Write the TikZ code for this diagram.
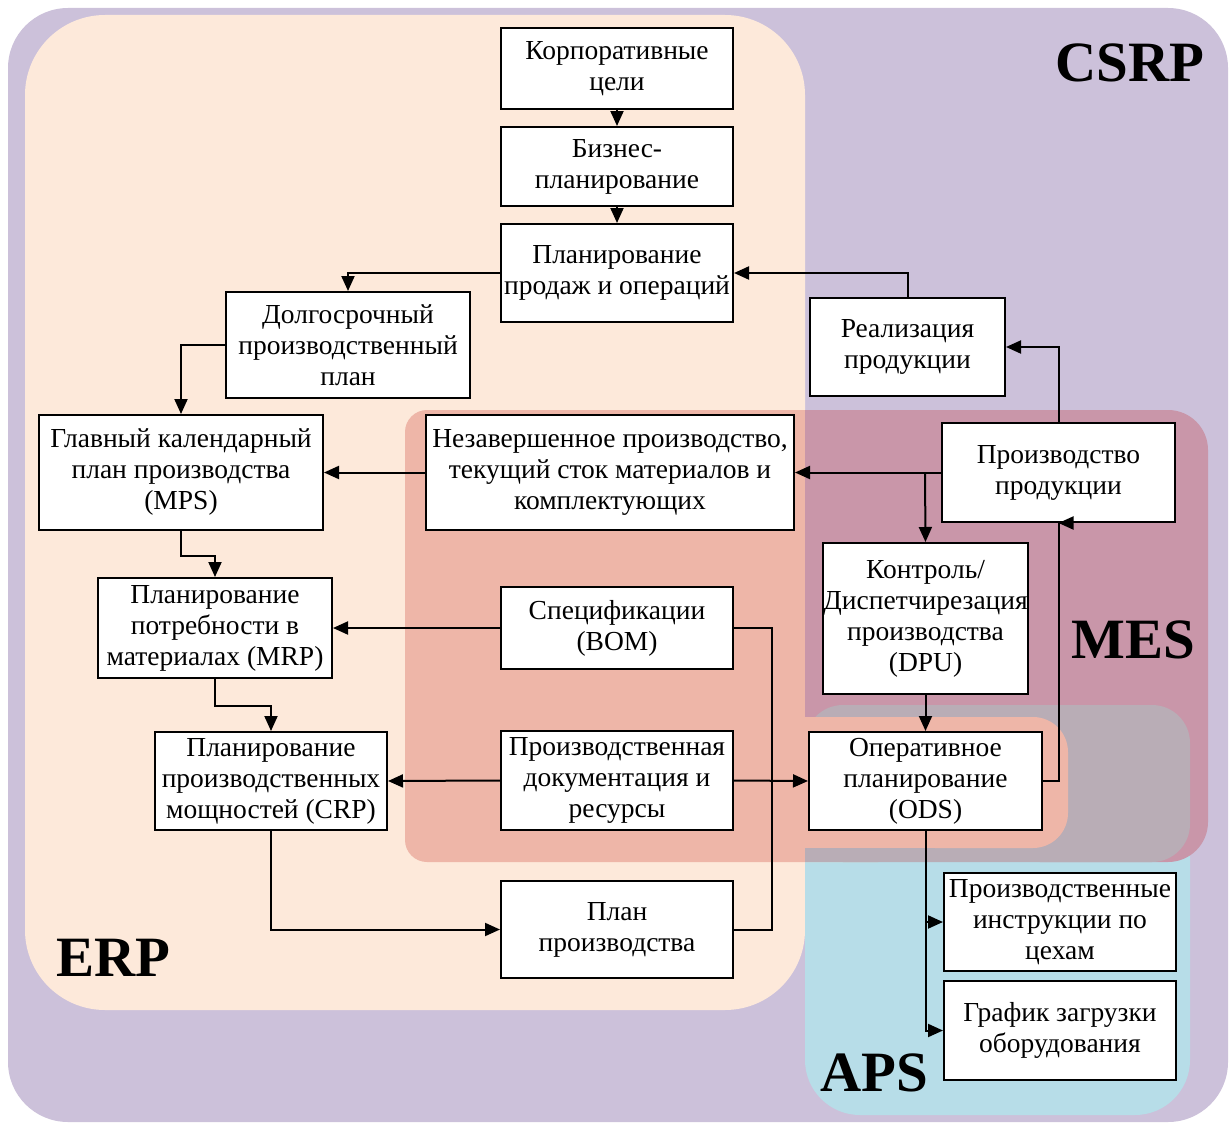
\documentclass[tikz,border=0pt]{standalone}
\usepackage{fontspec}
\setmainfont{Liberation Serif}
\newfontfamily\lserif{Liberation Serif}
\usetikzlibrary{arrows.meta}
\definecolor{csrp}{HTML}{CCC1DA}
\definecolor{erp}{HTML}{FDE9DA}
\definecolor{mesr}{HTML}{EEB6A8}
\definecolor{mesp}{HTML}{C996A9}
\definecolor{aps}{HTML}{B7DDE8}
\definecolor{apsmes}{HTML}{B9ADB6}
\tikzset{
  blk/.style={draw=black, line width=2pt, fill=white, align=center, inner sep=0pt,
    font=\lserif\fontsize{27.5}{31}\selectfont},
  con/.style={line width=2pt, draw=black},
  arr/.style={con, -{Triangle[length=15pt,width=13pt]}},
  big/.style={font=\lserif\fontsize{57}{60}\selectfont\bfseries, inner sep=0pt}
}
\newcommand\bx[6]{%
  \pgfmathsetmacro\bw{#4-#2}\pgfmathsetmacro\bh{#5-#3}%
  \pgfmathsetmacro\cx{(#2+#4)/2}\pgfmathsetmacro\cy{(#3+#5)/2}%
  \node[blk, minimum width=\bw pt, minimum height=\bh pt] (#1) at (\cx,\cy) {#6};}
\begin{document}
\begin{tikzpicture}[x=1pt,y=-1pt]
\useasboundingbox (0,0) rectangle (1232,1124);
% regions
\fill[csrp, rounded corners=60pt] (8,8) rectangle (1228,1122);
\fill[erp, rounded corners=80pt] (25,15) rectangle (805,1010);
\fill[aps, rounded corners=55pt] (805,705) rectangle (1190,1115);
\fill[mesr, rounded corners=22pt] (405,410) rectangle (900,862);
\fill[mesp] (805,410) rectangle (1100,862);
\fill[mesp, rounded corners=40pt] (1000,410) rectangle (1208,862);
\fill[apsmes, rounded corners=38pt] (805,705) rectangle (1190,862);
\fill[apsmes] (805,780) rectangle (900,862);
\fill[mesr] (800,717) rectangle (1000,848);
\fill[mesr, rounded corners=35pt] (900,717) rectangle (1068,848);
% labels
\node[big] (lcsrp) at (1130,63) {CSRP};
\node[big] (lerp) at (113,958) {ERP};
\node[big] (lmes) at (1133,640) {MES};
\node[big] (laps) at (874,1073) {APS};
% boxes
\bx{goal}{501}{28}{733}{109}{Корпоративные\\цели}
\bx{biz}{501}{127}{733}{206}{Бизнес-\\планирование}
\bx{sop}{501}{224}{733}{322}{Планирование\\продаж и операций}
\bx{long}{226}{292}{470}{398}{Долгосрочный\\производственный\\план}
\bx{sale}{810}{298}{1005}{396}{Реализация\\продукции}
\bx{mps}{39}{415}{323}{530}{Главный календарный\\план производства\\(MPS)}
\bx{wip}{426}{415}{794}{530}{Незавершенное производство,\\текущий сток материалов и\\комплектующих}
\bx{prod}{942}{423}{1175}{522}{Производство\\продукции}
\bx{mrp}{98}{578}{332}{678}{Планирование\\потребности в\\материалах (MRP)}
\bx{bom}{501}{587}{733}{669}{Спецификации\\(BOM)}
\bx{dpu}{823}{543}{1028}{694}{Контроль/\\Диспетчирезация\\производства\\(DPU)}
\bx{crp}{155}{732}{387}{830}{Планирование\\производственных\\мощностей (CRP)}
\bx{doc}{501}{731}{733}{830}{Производственная\\документация и\\ресурсы}
\bx{ods}{809}{732}{1042}{830}{Оперативное\\планирование\\(ODS)}
\bx{plan}{501}{881}{733}{978}{План\\производства}
\bx{instr}{944}{873}{1176}{971}{Производственные\\инструкции по\\цехам}
\bx{load}{944}{981}{1176}{1080}{График загрузки\\оборудования}
% connectors
\draw[arr] (goal) -- (biz);
\draw[arr] (biz) -- (sop);
\draw[arr] (sop.west) -| (long.north);
\draw[arr] (sale.north) |- (sop.east);
\draw[arr] (long.west) -| (mps.north);
\draw[arr] (prod.north) |- (sale.east);
\draw[arr] (prod.west) -- (wip.east);
\coordinate (br1) at (925,473);
\draw[arr] (br1) -- (dpu.north);
\draw[arr] (wip.west) -- (mps.east);
\draw[arr] (mps.south) -- ++(0,25) -| (mrp.north);
\draw[arr] (bom.west) -- (mrp.east);
\draw[con] (bom.east) -- ++(38,0) |- (plan.east);
\draw[arr] (mrp.south) -- ++(0,27) -| (crp.north);
\draw[arr] (doc.west) -- (crp.east);
\draw[arr] (doc.east) -- (ods.west);
\draw[arr] (crp.south) |- (plan.west);
\draw[arr] (dpu.south) -- (ods.north);
\draw[arr] (ods.east) -- ++(16,0) |- (prod.south);
\draw[arr] (ods.south) |- (load.west);
\coordinate (br2) at (925,922);
\draw[arr] (br2) -- (instr.west);
\end{tikzpicture}
\end{document}
